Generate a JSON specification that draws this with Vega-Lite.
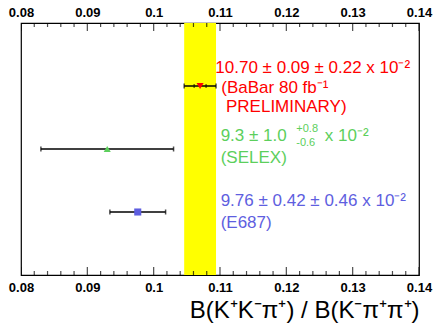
{
  "$schema": "https://vega.github.io/schema/vega-lite/v6.json",
  "width": 398,
  "height": 252,
  "autosize": "none",
  "padding": {"left": 21, "top": 23, "right": 14, "bottom": 56},
  "background": "white",
  "config": {
    "view": {"stroke": "black", "strokeWidth": 1.2},
    "font": "Liberation Sans",
    "axis": {"labelFont": "Liberation Sans", "titleFont": "Liberation Sans", "grid": false, "domain": false, "ticks": false, "tickSize": 0, "labelColor": "black", "titleColor": "black"}
  },
  "datasets": {
    "band": [{"lo": 0.1046, "hi": 0.1094}],
    "majors": [{"x": 0.08}, {"x": 0.09}, {"x": 0.1}, {"x": 0.11}, {"x": 0.12}, {"x": 0.13}, {"x": 0.14}],
    "minors": [{"x": 0.082}, {"x": 0.084}, {"x": 0.086}, {"x": 0.088}, {"x": 0.092}, {"x": 0.094}, {"x": 0.096}, {"x": 0.098}, {"x": 0.102}, {"x": 0.104}, {"x": 0.106}, {"x": 0.108}, {"x": 0.112}, {"x": 0.114}, {"x": 0.116}, {"x": 0.118}, {"x": 0.122}, {"x": 0.124}, {"x": 0.126}, {"x": 0.128}, {"x": 0.132}, {"x": 0.134}, {"x": 0.136}, {"x": 0.138}],
    "points": [
      {"exp": "BaBar", "v": 0.107, "lo": 0.1046, "hi": 0.1094, "slo": 0.1061, "shi": 0.1079, "y": 3},
      {"exp": "SELEX", "v": 0.093, "lo": 0.083, "hi": 0.103, "y": 2},
      {"exp": "E687", "v": 0.0976, "lo": 0.0934, "hi": 0.1018, "y": 1}
    ],
    "labels": [
      {"exp": "BaBar", "x": 0.1093, "y": 3.286, "t": "10.70 ± 0.09 ± 0.22 x 10⁻²"},
      {"exp": "BaBar", "x": 0.1102, "y": 2.968, "t": "(BaBar 80 fb⁻¹"},
      {"exp": "BaBar", "x": 0.1109, "y": 2.667, "t": "PRELIMINARY)"},
      {"exp": "SELEX", "x": 0.1101, "y": 2.206, "t": "9.3 ± 1.0"},
      {"exp": "SELEX", "x": 0.1258, "y": 2.206, "t": "x 10⁻²"},
      {"exp": "SELEX", "x": 0.1101, "y": 1.857, "t": "(SELEX)"},
      {"exp": "E687", "x": 0.1101, "y": 1.175, "t": "9.76 ± 0.42 ± 0.46 x 10⁻²"},
      {"exp": "E687", "x": 0.1101, "y": 0.825, "t": "(E687)"}
    ],
    "sublabels": [
      {"exp": "SELEX", "x": 0.1215, "y": 2.317, "t": "+0.8"},
      {"exp": "SELEX", "x": 0.1215, "y": 2.095, "t": "-0.6"}
    ]
  },
  "resolve": {"axis": {"x": "independent"}},
  "layer": [
    {
      "data": {"name": "band"},
      "mark": {"type": "rect", "color": "#ffff00"},
      "encoding": {
        "x": {"field": "lo", "type": "quantitative", "scale": {"domain": [0.08, 0.14], "nice": false, "zero": false},
              "axis": {"orient": "bottom", "values": [0.08, 0.09, 0.1, 0.11, 0.12, 0.13, 0.14], "format": "~g", "labelPadding": 6, "labelFontSize": 13, "labelFontWeight": "bold", "labelFlush": false,
                       "title": "B(K⁺K⁻π⁺) / B(K⁻π⁺π⁺)", "titleFontSize": 24, "titleFontWeight": "normal", "titleAnchor": "end", "titleAlign": "right", "titlePadding": 4}},
        "x2": {"field": "hi"}
      }
    },
    {
      "data": {"name": "points"},
      "mark": {"type": "rule", "color": "black", "strokeWidth": 1.5},
      "encoding": {
        "x": {"field": "lo", "type": "quantitative",
              "axis": {"orient": "top", "values": [0.08, 0.09, 0.1, 0.11, 0.12, 0.13, 0.14], "format": "~g", "labelPadding": 4, "labelFontSize": 13, "labelFontWeight": "bold", "labelFlush": false, "title": null}},
        "x2": {"field": "hi"},
        "y": {"field": "y", "type": "quantitative", "scale": {"domain": [0, 4], "nice": false, "zero": false}, "axis": null}
      }
    },
    {
      "data": {"name": "majors"},
      "mark": {"type": "tick", "color": "black", "orient": "vertical", "size": 16, "thickness": 1.2, "clip": true},
      "encoding": {
        "x": {"field": "x", "type": "quantitative", "axis": null},
        "y": {"datum": 4, "type": "quantitative", "axis": null}
      }
    },
    {
      "data": {"name": "majors"},
      "mark": {"type": "tick", "color": "black", "orient": "vertical", "size": 16, "thickness": 1.2, "clip": true},
      "encoding": {
        "x": {"field": "x", "type": "quantitative", "axis": null},
        "y": {"datum": 0, "type": "quantitative", "axis": null}
      }
    },
    {
      "data": {"name": "minors"},
      "mark": {"type": "tick", "color": "black", "orient": "vertical", "size": 8, "thickness": 1.2, "clip": true},
      "encoding": {
        "x": {"field": "x", "type": "quantitative", "axis": null},
        "y": {"datum": 4, "type": "quantitative", "axis": null}
      }
    },
    {
      "data": {"name": "minors"},
      "mark": {"type": "tick", "color": "black", "orient": "vertical", "size": 8, "thickness": 1.2, "clip": true},
      "encoding": {
        "x": {"field": "x", "type": "quantitative", "axis": null},
        "y": {"datum": 0, "type": "quantitative", "axis": null}
      }
    },
    {
      "data": {"name": "points"},
      "mark": {"type": "tick", "color": "black", "orient": "vertical", "size": 5, "thickness": 1.5},
      "encoding": {
        "x": {"field": "lo", "type": "quantitative", "axis": null},
        "y": {"field": "y", "type": "quantitative", "axis": null}
      }
    },
    {
      "data": {"name": "points"},
      "mark": {"type": "tick", "color": "black", "orient": "vertical", "size": 5, "thickness": 1.5},
      "encoding": {
        "x": {"field": "hi", "type": "quantitative", "axis": null},
        "y": {"field": "y", "type": "quantitative", "axis": null}
      }
    },
    {
      "data": {"name": "points"},
      "mark": {"type": "tick", "color": "black", "orient": "vertical", "size": 4, "thickness": 1.2},
      "encoding": {
        "x": {"field": "slo", "type": "quantitative", "axis": null},
        "y": {"field": "y", "type": "quantitative", "axis": null}
      }
    },
    {
      "data": {"name": "points"},
      "mark": {"type": "tick", "color": "black", "orient": "vertical", "size": 4, "thickness": 1.2},
      "encoding": {
        "x": {"field": "shi", "type": "quantitative", "axis": null},
        "y": {"field": "y", "type": "quantitative", "axis": null}
      }
    },
    {
      "data": {"name": "points"},
      "mark": {"type": "point", "filled": true, "opacity": 1, "size": 50},
      "encoding": {
        "x": {"field": "v", "type": "quantitative", "axis": null},
        "y": {"field": "y", "type": "quantitative", "axis": null},
        "color": {"field": "exp", "type": "nominal", "scale": {"domain": ["BaBar", "SELEX", "E687"], "range": ["#ff0000", "#5ccf5c", "#5e5ee0"]}, "legend": null},
        "shape": {"field": "exp", "type": "nominal", "scale": {"domain": ["BaBar", "SELEX", "E687"], "range": ["triangle-down", "triangle-up", "square"]}, "legend": null}
      }
    },
    {
      "data": {"name": "labels"},
      "mark": {"type": "text", "align": "left", "baseline": "middle", "fontSize": 17, "font": "Liberation Sans"},
      "encoding": {
        "x": {"field": "x", "type": "quantitative", "axis": null},
        "y": {"field": "y", "type": "quantitative", "axis": null},
        "text": {"field": "t"},
        "color": {"field": "exp", "type": "nominal", "legend": null}
      }
    },
    {
      "data": {"name": "sublabels"},
      "mark": {"type": "text", "align": "left", "baseline": "middle", "fontSize": 11, "font": "Liberation Sans"},
      "encoding": {
        "x": {"field": "x", "type": "quantitative", "axis": null},
        "y": {"field": "y", "type": "quantitative", "axis": null},
        "text": {"field": "t"},
        "color": {"field": "exp", "type": "nominal", "legend": null}
      }
    }
  ]
}
